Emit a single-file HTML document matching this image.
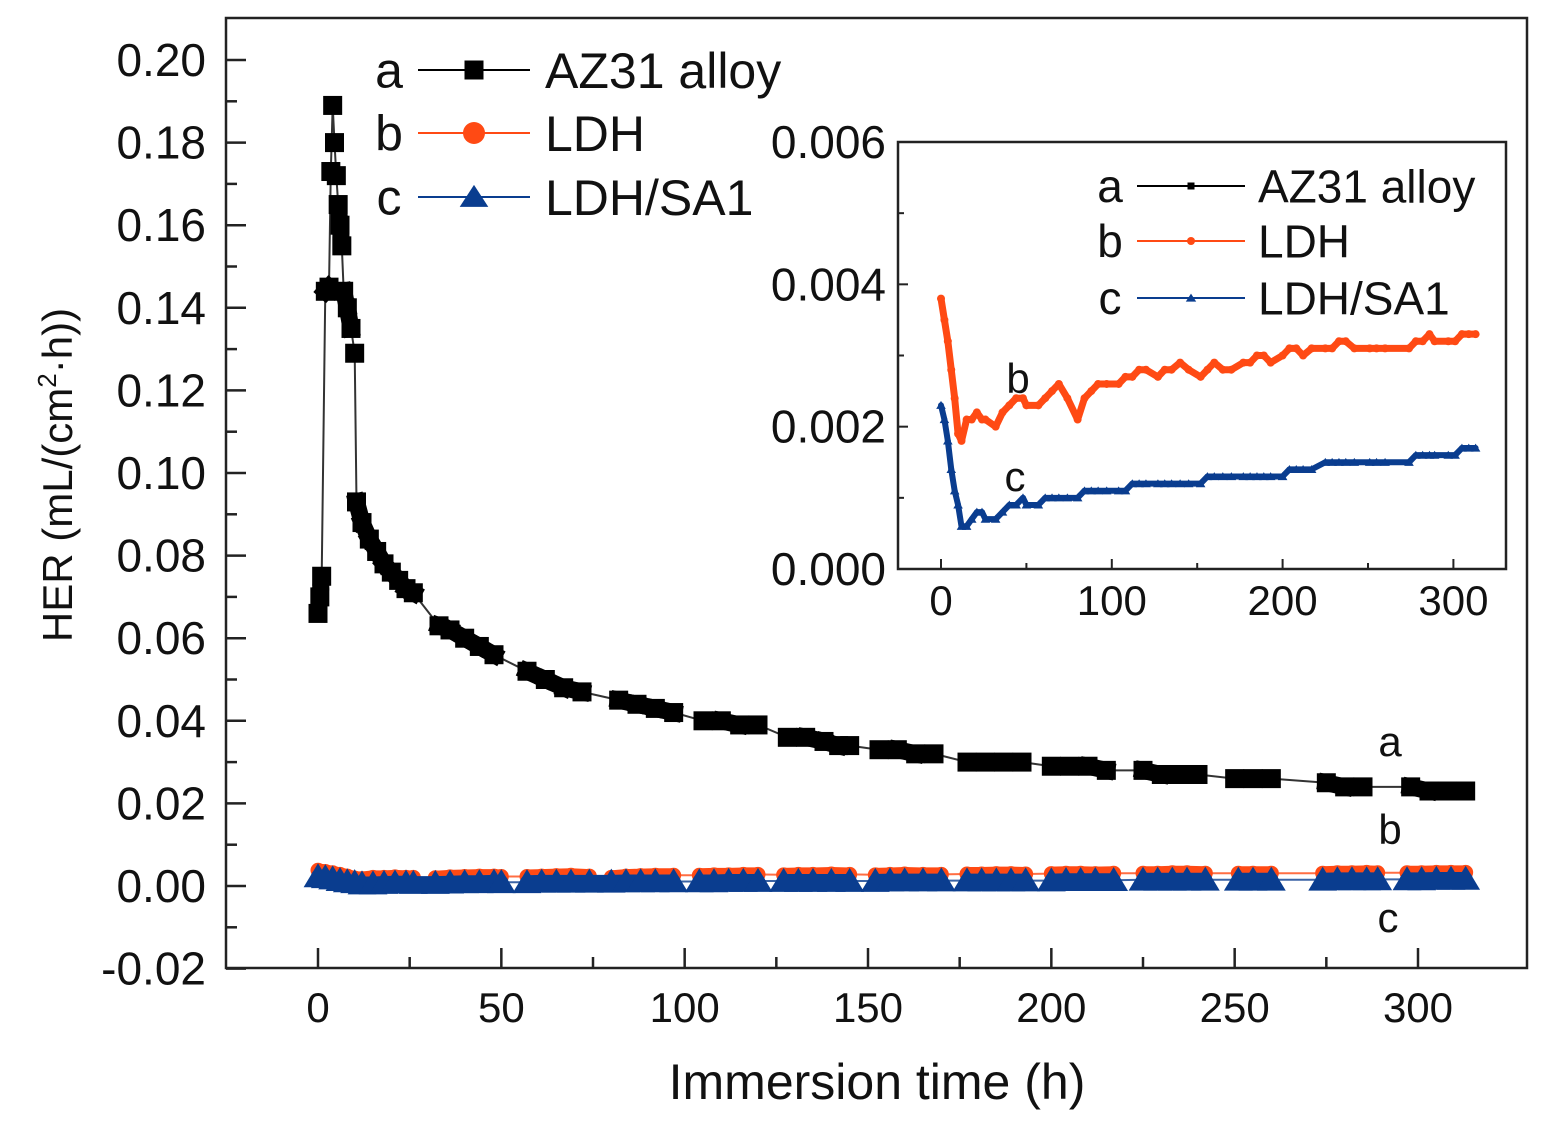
<!DOCTYPE html>
<html><head><meta charset="utf-8"><style>
html,body{margin:0;padding:0;background:#fff}
svg{display:block;font-family:"Liberation Sans",Arial,sans-serif}
</style></head><body>
<svg id="chart" width="1544" height="1131" viewBox="0 0 1544 1131" xmlns="http://www.w3.org/2000/svg"></svg>
<script>
// ---- data ----
const aHours = [0,0.5,1,2,3,3.5,4,4.5,5,5.5,6,6.5,7,8,9,10,10.5,12,14,16,18,20,22,24,26,33,36,40,44,48,57,62,67,72,82,87,92,97,105,110,115,120,128,133,138,142,145,153,158,163,168,177,182,187,192,200,205,210,215,225,230,235,240,250,255,260,275,280,285,298,303,308,313];
const aValues = [0.066,0.070,0.075,0.144,0.145,0.173,0.189,0.180,0.172,0.165,0.160,0.155,0.144,0.140,0.135,0.129,0.093,0.088,0.084,0.081,0.078,0.076,0.074,0.072,0.071,0.063,0.062,0.060,0.058,0.056,0.052,0.050,0.048,0.047,0.045,0.044,0.043,0.042,0.040,0.040,0.039,0.039,0.036,0.036,0.035,0.034,0.034,0.033,0.033,0.032,0.032,0.030,0.030,0.030,0.030,0.029,0.029,0.029,0.028,0.028,0.027,0.027,0.027,0.026,0.026,0.026,0.025,0.024,0.024,0.024,0.023,0.023,0.023];
const bcHours = [0,2,4,6,8,10,12,15,18,21,24,26,32,36,40,44,48,50,57,61,65,69,74,80,84,88,92,97,104,108,112,116,120,127,131,135,140,145,152,156,160,165,170,177,181,185,189,193,200,204,208,212,217,225,229,233,237,242,251,255,260,274,278,282,286,289,297,301,305,309,313];
const bValues = [0.0038,0.0035,0.0032,0.0028,0.0024,0.0019,0.0018,0.0021,0.0021,0.0022,0.0021,0.0021,0.0020,0.0022,0.0023,0.0024,0.0024,0.0023,0.0023,0.0024,0.0025,0.0026,0.0024,0.0021,0.0024,0.0025,0.0026,0.0026,0.0026,0.0027,0.0027,0.0028,0.0028,0.0027,0.0028,0.0028,0.0029,0.0028,0.0027,0.0028,0.0029,0.0028,0.0028,0.0029,0.0029,0.0030,0.0030,0.0029,0.0030,0.0031,0.0031,0.0030,0.0031,0.0031,0.0031,0.0032,0.0032,0.0031,0.0031,0.0031,0.0031,0.0031,0.0032,0.0032,0.0033,0.0032,0.0032,0.0032,0.0033,0.0033,0.0033];
const cValues = [0.0023,0.0021,0.0018,0.0014,0.0011,0.0009,0.0006,0.0006,0.0007,0.0008,0.0008,0.0007,0.0007,0.0008,0.0009,0.0009,0.0010,0.0009,0.0009,0.0010,0.0010,0.0010,0.0010,0.0010,0.0011,0.0011,0.0011,0.0011,0.0011,0.0011,0.0012,0.0012,0.0012,0.0012,0.0012,0.0012,0.0012,0.0012,0.0012,0.0013,0.0013,0.0013,0.0013,0.0013,0.0013,0.0013,0.0013,0.0013,0.0013,0.0014,0.0014,0.0014,0.0014,0.0015,0.0015,0.0015,0.0015,0.0015,0.0015,0.0015,0.0015,0.0015,0.0016,0.0016,0.0016,0.0016,0.0016,0.0016,0.0017,0.0017,0.0017];
const mainYTicks = [-0.02,0,0.02,0.04,0.06,0.08,0.10,0.12,0.14,0.16,0.18,0.20];
const mainYLabels = ["-0.02","0.00","0.02","0.04","0.06","0.08","0.10","0.12","0.14","0.16","0.18","0.20"];
const mainXTicks = [0,50,100,150,200,250,300];
const insetYTicks = [0,0.002,0.004,0.006];
const insetYLabels = ["0.000","0.002","0.004","0.006"];
const insetXTicks = [0,100,200,300];

const NS="http://www.w3.org/2000/svg";
const svg=document.getElementById('chart');
function mk(tag,attrs,parent){const e=document.createElementNS(NS,tag);for(const k in attrs)e.setAttribute(k,attrs[k]);(parent||svg).appendChild(e);return e;}
function txt(s,x,y,size,anchor,parent){const t=mk('text',{x:x,y:y,'font-size':size,'text-anchor':anchor||'start',fill:'#111'},parent);t.textContent=s;return t;}

const mx=h=>318+h*(1100/300);
const my=v=>886-v*(826/0.20);
const ix=h=>941+h*1.708;
const iy=v=>569-v*(427/0.006);

const frame=mk('rect',{x:226,y:18,width:1301,height:950,fill:'none',stroke:'#222','stroke-width':2.5});



const gy=mk('g',{});


for(let v=-0.02;v<=0.2001;v+=0.01){const y=my(v);const major=Math.round(v*100)%2===0;mk('line',{x1:226,x2:226+(major?20:11),y1:y,y2:y,stroke:'#222','stroke-width':2.5},gy);}
mainYTicks.forEach((v,i)=>{const t=txt(mainYLabels[i],206,my(v)+16,46,'end',gy);});
const gx=mk('g',{});


for(let h=0;h<=300;h+=25){const x=mx(h);const major=h%50===0;mk('line',{x1:x,x2:x,y1:968,y2:968-(major?20:11),stroke:'#222','stroke-width':2.5},gx);}
mainXTicks.forEach(h=>{const t=txt(String(h),mx(h),1022,42,'middle',gx);});
const xt=txt('Immersion time (h)',877,1099,50,'middle');


const yt=mk('text',{x:0,y:0,'font-size':42,'text-anchor':'middle',fill:'#111',transform:'translate(72,475) rotate(-90)'});


yt.innerHTML='HER (mL/(cm<tspan dy="-16" font-size="26">2</tspan><tspan dy="16">·h))</tspan>';

function drawSeries(hours,vals,X,Y,color,marker,size,band,thin,maxGap,name){
  const g=mk('g',{});
  
  
  let d='';hours.forEach((h,i)=>{d+=(i?'L':'M')+X(h).toFixed(1)+' '+Y(vals[i]).toFixed(1);});
  mk('path',{d:d,fill:'none',stroke:color,'stroke-width':thin,opacity:0.8},g);
  if(band>0){
    for(let i=0;i+1<hours.length;i++){
      const x1=X(hours[i]),y1=Y(vals[i]),x2=X(hours[i+1]),y2=Y(vals[i+1]);
      if(Math.hypot(x2-x1,y2-y1)<=maxGap){mk('line',{x1:x1,y1:y1,x2:x2,y2:y2,stroke:color,'stroke-width':band,'stroke-linecap':marker==='square'?'square':'round'},g);}
    }
  }
  hours.forEach((h,i)=>{
    const x=X(h),y=Y(vals[i]);let m;
    if(marker==='square')m=mk('rect',{x:x-size/2,y:y-size/2,width:size,height:size,fill:color},g);
    else if(marker==='circle')m=mk('circle',{cx:x,cy:y,r:size/2,fill:color},g);
    else m=mk('polygon',{points:`${x},${y-size*0.55} ${x-size*0.6},${y+size*0.45} ${x+size*0.6},${y+size*0.45}`,fill:color},g);
    
    
  });
}
drawSeries(bcHours,bValues,mx,my,'#ff4a14','circle',15,14,2,22,'series-b-ldh');
drawSeries(bcHours,cValues,mx,my,'#0a3d8f','triangle',24,14,2,22,'series-c-ldh-sa1');
drawSeries(aHours,aValues,mx,my,'#000','square',19,17,2,22,'series-a-az31');

function legendEntry(y,letter,label,color,marker,x0,lx1,lx2,tx,fs,ms,name){
  const g=mk('g',{});
  
  
  txt(letter,x0,y+fs*0.35,fs,'middle',g);
  mk('line',{x1:lx1,x2:lx2,y1:y,y2:y,stroke:color,'stroke-width':2},g);
  const cx=(lx1+lx2)/2;
  if(marker==='square')mk('rect',{x:cx-ms/2,y:y-ms/2,width:ms,height:ms,fill:color},g);
  else if(marker==='circle')mk('circle',{cx:cx,cy:y,r:ms/2,fill:color},g);
  else mk('polygon',{points:`${cx},${y-ms*0.55} ${cx-ms*0.65},${y+ms*0.45} ${cx+ms*0.65},${y+ms*0.45}`,fill:color},g);
  txt(label,tx,y+fs*0.36,fs,'start',g);
}
legendEntry(70,'a','AZ31 alloy','#000','square',389,418,530,545,50,19,'legend-entry-a');
legendEntry(133,'b','LDH','#ff4a14','circle',389,418,530,545,50,22,'legend-entry-b');
legendEntry(197,'c','LDH/SA1','#0a3d8f','triangle',389,418,530,545,50,22,'legend-entry-c');
[['a',1390,756],['b',1390,844],['c',1388,932]].forEach(([s,x,y])=>{const t=txt(s,x,y,42,'middle');});

const ins=mk('g',{});


mk('rect',{x:898,y:142,width:608,height:427,fill:'#fff',stroke:'#222','stroke-width':2.5},ins);
for(let v=0;v<=0.00601;v+=0.001){const y=iy(v);const major=Math.round(v*1000)%2===0;mk('line',{x1:898,x2:898+(major?10:6),y1:y,y2:y,stroke:'#222','stroke-width':2},ins);}
insetYTicks.forEach((v,i)=>{const t=txt(insetYLabels[i],886,iy(v)+16,46,'end',ins);});
for(let h=0;h<=300;h+=50){const x=ix(h);const major=h%100===0;mk('line',{x1:x,x2:x,y1:569,y2:569-(major?10:6),stroke:'#222','stroke-width':2},ins);}
insetXTicks.forEach(h=>{const t=txt(String(h),ix(h),615,42,'middle',ins);});
drawSeries(bcHours,bValues,ix,iy,'#ff4a14','circle',8,7,2,200,'inset-series-b-ldh');
drawSeries(bcHours,cValues,ix,iy,'#0a3d8f','triangle',8,6,2,200,'inset-series-c-ldh-sa1');
legendEntry(186,'a','AZ31 alloy','#000','square',1110,1137,1245,1258,46,7,'inset-legend-entry-a');
legendEntry(241,'b','LDH','#ff4a14','circle',1110,1137,1245,1258,46,8,'inset-legend-entry-b');
legendEntry(298,'c','LDH/SA1','#0a3d8f','triangle',1110,1137,1245,1258,46,8,'inset-legend-entry-c');
[['b',1018,393],['c',1015,491]].forEach(([s,x,y])=>{const t=txt(s,x,y,42,'middle');});
</script>
</body></html>
